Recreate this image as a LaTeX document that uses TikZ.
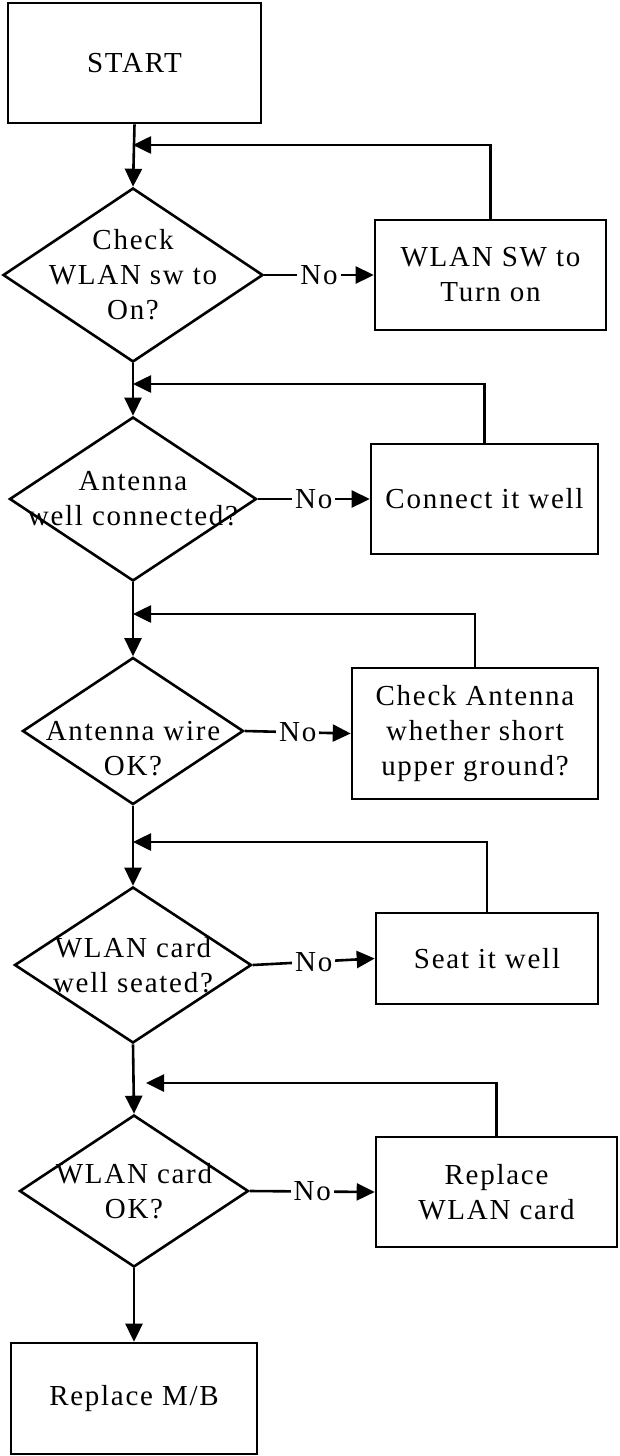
\documentclass[tikz,border=0pt]{standalone}
\usepackage{fontspec}
\setmainfont{Liberation Serif}[LetterSpace=6]
\usetikzlibrary{arrows.meta,shapes.geometric}
\newcommand{\flowfont}{\fontsize{29}{35}\selectfont}

\begin{document}
\begin{tikzpicture}[x=1pt,y=-1pt,line width=2.6pt,
  >={Triangle[length=18pt,width=17pt]},
  caja/.style 2 args={draw,minimum width=#1,minimum height=#2,inner sep=0pt,
    align=center,font=\flowfont},
  rombo/.style 2 args={draw,diamond,minimum width=#1,minimum height=#2,inner sep=0pt},
  texto/.style={align=center,font=\flowfont,inner sep=0pt},
  no/.style={fill=white,font=\flowfont,inner sep=3pt}]
  \useasboundingbox (0,0) rectangle (619,1456);

  \node[caja={253}{120}] (start) at (134.5,63) {START};

  % checks on the left, fixes on the right
  \node[rombo={260}{174}] (d1) at (133,275) {};
  \node[texto] (t1) at (d1) {Check\\WLAN sw to\\On?};
  \node[caja={231}{110}] (b1) at (490.5,275) {WLAN SW to\\Turn on};

  \node[rombo={247}{164}] (d2) at (133,499) {};
  \node[texto] (t2) at (d2) {Antenna\\well connected?};
  \node[caja={227}{110}] (b2) at (484.5,499) {Connect it well};

  \node[rombo={221}{147}] (d3) at (133,731) {};
  \node[texto] (t3) at (133,749) {Antenna wire\\OK?};
  \node[caja={246}{131}] (b3) at (475,733.5) {Check Antenna\\whether short\\upper ground?};

  \node[rombo={237}{156}] (d4) at (133,965) {};
  \node[texto] (t4) at (d4) {WLAN card\\well seated?};
  \node[caja={222}{91}] (b4) at (487,958.5) {Seat it well};

  \node[rombo={229}{152}] (d5) at (134,1191) {};
  \node[texto] (t5) at (d5) {WLAN card\\OK?};
  \node[caja={241}{110}] (b5) at (496.5,1192) {Replace\\WLAN card};

  \node[caja={246}{111}] (mb) at (134,1398.5) {Replace M/B};

  \coordinate (m1) at (133,145);
  \coordinate (m2) at (133,384);
  \coordinate (m3) at (133,614);
  \coordinate (m4) at (133,842);
  \coordinate (m5) at (146,1083);

  % main line
  \draw[->] (start.south) -- (d1.north);
  \draw[->] (d1.south) -- (d2.north);
  \draw[->] (d2.south) -- (d3.north);
  \draw[->] (d3.south) -- (d4.north);
  \draw[->] (d4.south) -- (d5.north);
  \draw[->] (d5.south) -- (mb.north);

  \draw[->] (d1.east) -- node[no] {No} (b1.west);
  \draw[->] (d2.east) -- node[no] {No} (b2.west);
  \draw[->] (d3.east) -- node[no] {No} (b3.west);
  \draw[->] (d4.east) -- node[no] {No} (b4.west);
  \draw[->] (d5.east) -- node[no] {No} (b5.west);

  % back to the main line
  \draw[->] (b1.north) |- (m1);
  \draw[->] (b2.north) |- (m2);
  \draw[->] (b3.north) |- (m3);
  \draw[->] (b4.north) |- (m4);
  \draw[->] (b5.north) |- (m5);
\end{tikzpicture}
\end{document}
